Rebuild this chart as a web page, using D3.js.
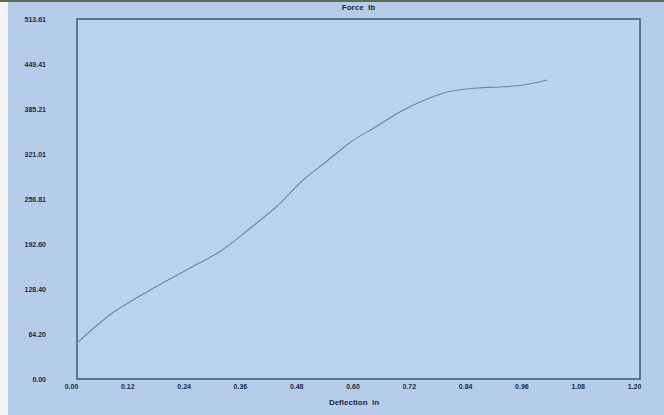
<!DOCTYPE html>
<html>
<head>
<meta charset="utf-8">
<script src="https://cdn.jsdelivr.net/npm/d3@7"></script>
<style>
html,body{margin:0;padding:0;background:#b8cfea;}
svg{display:block;}
</style>
</head>
<body>
<svg id="chart" width="664" height="415"></svg>
<script>
// Data
const deflection = [0.00, 0.064, 0.156, 0.247, 0.305, 0.369, 0.426, 0.482, 0.533, 0.582, 0.640, 0.688, 0.731, 0.789, 0.853, 0.902, 0.951, 1.002];
const force      = [51.4, 88.5, 127.0, 160.5, 182.0, 215.0, 246.5, 283.9, 311.0, 337.5, 361.0, 380.9, 395.2, 409.5, 415.2, 416.6, 419.4, 426.6];
const xTicks = [0.00, 0.12, 0.24, 0.36, 0.48, 0.60, 0.72, 0.84, 0.96, 1.08, 1.20];
const yTicks = [0.00, 64.20, 128.40, 192.60, 256.81, 321.01, 385.21, 449.41, 513.61];
const titleText = "Force  lb";
const xLabelText = "Deflection  in";

const svg = d3.select("#chart");
const W = 664, H = 415;
const m = {left: 77, right: 24, top: 19, bottom: 36};
const pw = W - m.left - m.right, ph = H - m.top - m.bottom;

// background
svg.append("rect").attr("width", W).attr("height", H).attr("fill", "#b6cde9");
svg.append("rect").attr("x", 0).attr("y", 0).attr("width", 8).attr("height", H).attr("fill", "#f2f5f8");
svg.append("rect").attr("x", 0).attr("y", 0).attr("width", W).attr("height", 2).attr("fill", "#5d6e4c");

const x = d3.scaleLinear().domain([0, 1.20]).range([m.left, m.left + pw]);
const y = d3.scaleLinear().domain([0, 513.61]).range([m.top + ph, m.top]);

// plot area
svg.append("rect")
  .attr("x", m.left).attr("y", m.top).attr("width", pw).attr("height", ph)
  .attr("fill", "#bbd2ec").attr("stroke", "#3f5678").attr("stroke-width", 1.5);

const font = "'Liberation Sans', Arial, sans-serif";

// x axis
const xAxis = svg.append("g")
  .attr("transform", `translate(0,${m.top + ph})`)
  .call(d3.axisBottom(x).tickValues(xTicks).tickSize(0).tickPadding(5).tickFormat(d3.format(".2f")));
xAxis.select(".domain").remove();
xAxis.selectAll("text")
  .attr("dx", -6)
  .attr("fill", "#1d2a48").style("font-family", font).style("font-size", "7px").style("font-weight", "bold");

// y axis
const yAxis = svg.append("g")
  .attr("transform", `translate(${m.left},0)`)
  .call(d3.axisLeft(y).tickValues(yTicks).tickSize(0).tickPadding(31).tickFormat(d3.format(".2f")));
yAxis.select(".domain").remove();
yAxis.selectAll("text")
  .attr("fill", "#1d2a48").style("font-family", font).style("font-size", "7px").style("font-weight", "bold");

// curve
const pts = deflection.map((d, i) => [d, force[i]]);
svg.append("path")
  .datum(pts)
  .attr("fill", "none")
  .attr("stroke", "#7086a8")
  .attr("stroke-width", 1.1)
  .attr("d", d3.line().x(d => x(d[0])).y(d => y(d[1])).curve(d3.curveMonotoneX));

// titles
svg.append("text")
  .attr("x", m.left + pw / 2).attr("y", 10)
  .attr("text-anchor", "middle")
  .attr("fill", "#1d2a48").style("font-family", font).style("font-size", "8px").style("font-weight", "bold")
  .style("white-space", "pre").attr("xml:space", "preserve")
  .text(titleText);

svg.append("text")
  .attr("x", 354).attr("y", 405)
  .attr("text-anchor", "middle")
  .attr("fill", "#1d2a48").style("font-family", font).style("font-size", "8px").style("font-weight", "bold")
  .style("white-space", "pre").attr("xml:space", "preserve")
  .text(xLabelText);
</script>
</body>
</html>
